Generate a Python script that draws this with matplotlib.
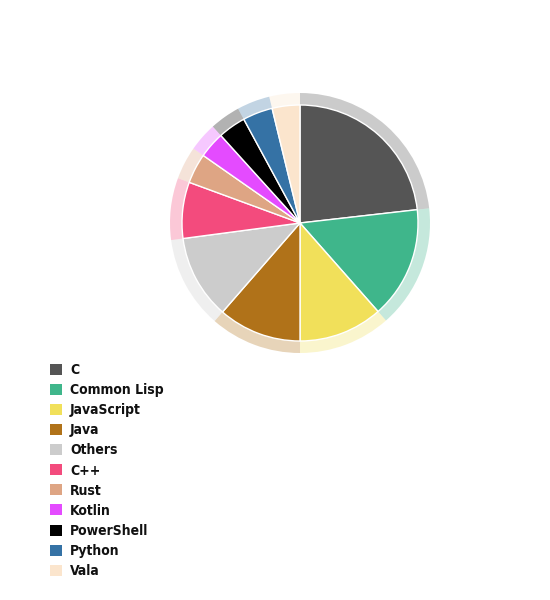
import matplotlib
matplotlib.use("Agg")
import matplotlib.pyplot as plt
from matplotlib.colors import to_rgba

# languages share (percent)
languages = ["C", "Common Lisp", "JavaScript", "Java", "Others", "C++",
             "Rust", "Kotlin", "PowerShell", "Python", "Vala"]
shares = [23.2, 15.3, 11.5, 11.4, 11.5, 7.7, 4.1, 3.6, 3.8, 4.1, 3.8]
colors = ["#555555", "#3fb68b", "#f1e05a", "#b07219", "#cccccc", "#f34b7d",
          "#dea584", "#e44bff", "#000000", "#3572a5", "#fbe5cd"]

plt.rcParams["font.family"] = ["DejaVu Sans"]
plt.rcParams["font.stretch"] = "condensed"

W, H = 550, 600
fig = plt.figure(figsize=(W / 100, H / 100), dpi=100)

cx, cy, R = 300, 223, 130
ax = fig.add_axes([(cx - R) / W, (H - cy - R) / H, 2 * R / W, 2 * R / H])
ax.set_aspect("equal")

# pale outer ring
ring_colors = [to_rgba(c, 0.3) for c in colors]
ax.pie(shares, radius=1.0, startangle=90, counterclock=False,
       colors=ring_colors, wedgeprops=dict(width=0.1, linewidth=0))

# solid inner pie
wedges, _ = ax.pie(shares, radius=118 / 130, startangle=90, counterclock=False,
                   colors=colors,
                   wedgeprops=dict(edgecolor="white", linewidth=1.0))
ax.set_xlim(-1, 1)
ax.set_ylim(-1, 1)

leg = fig.legend(wedges, languages, loc="upper left",
                 bbox_to_anchor=(50 / W, 1 - 363 / H),
                 frameon=False, handlelength=0.84,
                 handleheight=0.84, handletextpad=0.6, labelspacing=0.44,
                 borderpad=0, borderaxespad=0,
                 prop=dict(size=10, stretch="condensed", weight="bold"))
for h in leg.legend_handles:
    h.set_edgecolor("none")
for t in leg.get_texts():
    t.set_color("#111111")

fig.savefig("out.png", dpi=100)
